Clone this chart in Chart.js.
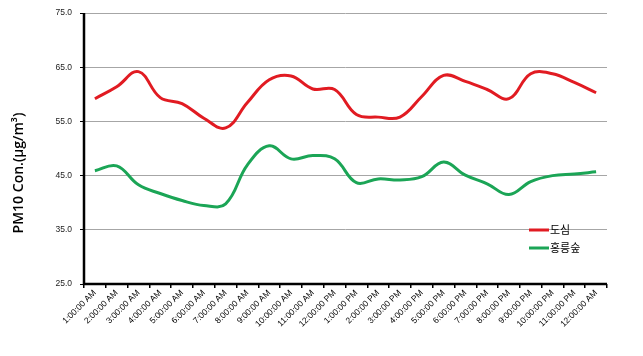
<!DOCTYPE html>
<html><head><meta charset="utf-8">
<script src="https://cdn.jsdelivr.net/npm/chart.js@4/dist/chart.umd.min.js"></script>
<style>html,body{margin:0;padding:0;background:#fff}#wrap{width:643px;height:356px}</style>
</head><body><div id="wrap"><canvas id="c" width="643" height="356"></canvas></div>
<script>
const categories = ["1:00:00 AM","2:00:00 AM","3:00:00 AM","4:00:00 AM","5:00:00 AM","6:00:00 AM","7:00:00 AM","8:00:00 AM","9:00:00 AM","10:00:00 AM","11:00:00 AM","12:00:00 PM","1:00:00 PM","2:00:00 PM","3:00:00 PM","4:00:00 PM","5:00:00 PM","6:00:00 PM","7:00:00 PM","8:00:00 PM","9:00:00 PM","10:00:00 PM","11:00:00 PM","12:00:00 AM"];
const seriesNames = ["도심","홍릉숲"];
const urban = [59.2,61.4,64.2,59.4,58.3,55.6,53.8,58.5,62.7,63.4,61.0,60.9,56.3,55.8,55.8,59.6,63.5,62.4,60.9,59.2,63.8,63.8,62.2,60.3];
const forest = [45.9,46.8,43.3,41.7,40.4,39.5,39.8,47.0,50.5,48.1,48.7,48.1,43.7,44.4,44.2,44.8,47.5,45.1,43.5,41.5,43.9,45.0,45.3,45.7];
const yTicks = [25,35,45,55,65,75];
const yTitle = 'PM10 Con.(μg/m³)';
const colors = ["#e11b22","#1ba556"];

const legendPlugin = {
  id:'customLegend',
  afterDatasetsDraw(chart){
    const ctx = chart.ctx;
    const x0 = 529, ys = [230,248];
    chart.data.datasets.forEach((ds,i)=>{
      ctx.save();
      ctx.strokeStyle = ds.borderColor; ctx.lineWidth = 3;
      ctx.beginPath(); ctx.moveTo(x0, ys[i]); ctx.lineTo(x0+20, ys[i]); ctx.stroke();
      ctx.fillStyle = '#000'; ctx.font = '11px "Noto Sans CJK KR"';
      ctx.textBaseline = 'middle'; ctx.textAlign = 'left';
      ctx.fillText(ds.label, x0+21, ys[i]);
      ctx.restore();
    });
  }
};
const axisPlugin = {
  id:'axisLines',
  afterDraw(chart){
    const ctx = chart.ctx, a = chart.chartArea;
    ctx.save(); ctx.strokeStyle='#000'; ctx.lineWidth=2.5;
    ctx.beginPath(); ctx.moveTo(a.left, a.top); ctx.lineTo(a.left, a.bottom); ctx.lineTo(a.right, a.bottom); ctx.stroke();
    ctx.restore();
    ctx.save();
    ctx.translate(19, 173); ctx.rotate(-Math.PI/2);
    ctx.fillStyle='#000'; ctx.font='600 14px "Open Sans", "Liberation Sans"';
    ctx.textAlign='center'; ctx.textBaseline='middle';
    ctx.fillText(yTitle, 0, 0);
    ctx.restore();
  }
};

new Chart(document.getElementById('c'), {
  type:'line',
  data:{labels:categories, datasets:[
    {label:seriesNames[0], data:urban, borderColor:colors[0], backgroundColor:colors[0], borderWidth:3, pointRadius:0, tension:0.4, fill:false},
    {label:seriesNames[1], data:forest, borderColor:colors[1], backgroundColor:colors[1], borderWidth:3, pointRadius:0, tension:0.4, fill:false}
  ]},
  options:{
    responsive:false, animation:false, devicePixelRatio:1,
    layout:{padding:{top:11,right:36,left:0,bottom:0}},
    plugins:{legend:{display:false}, tooltip:{enabled:false}},
    scales:{
      x:{
        offset:true,
        grid:{display:true, drawOnChartArea:false, drawTicks:true, tickLength:4, color:'#000', lineWidth:1.5, offset:true},
        border:{display:false},
        ticks:{maxRotation:45, minRotation:45, autoSkip:false, color:'#000', font:{family:'"Liberation Sans", Arial', size:8.5}, padding:0},
        afterFit(s){ s.height = 72; }
      },
      y:{
        min:25, max:75,
        afterBuildTicks(s){ s.ticks = yTicks.map(v=>({value:v})); },
        grid:{color:'#a6a6a6', lineWidth:1, drawTicks:true, tickLength:4, tickColor:'#000'},
        border:{display:false},
        ticks:{color:'#222', font:{family:'"Liberation Sans", Arial', size:8.5}, padding:8, callback:v=>Number(v).toFixed(1)},
        title:{display:false},
        afterFit(s){ s.width = 84; }
      }
    }
  },
  plugins:[legendPlugin, axisPlugin]
});
</script>
</body></html>
